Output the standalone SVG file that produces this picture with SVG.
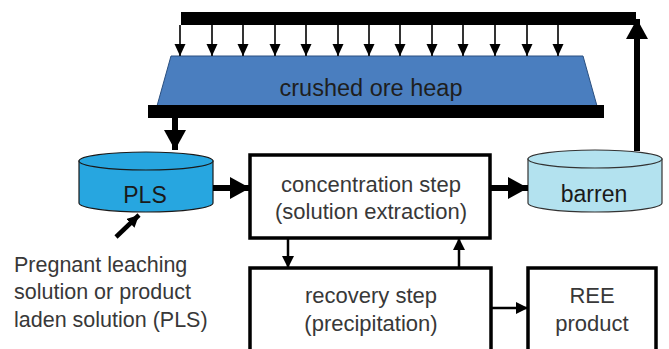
<svg xmlns="http://www.w3.org/2000/svg" width="669" height="349" viewBox="0 0 669 349">
<style>
text{font-family:"Liberation Sans","Open Sans",Arial,sans-serif;fill:#383838;}
.lbl{font-size:22px;text-anchor:middle;}
.note{font-size:21.5px;}
.box{fill:#fff;stroke:#000;stroke-width:3.5;}
.thin{stroke:#000;stroke-width:1.6;fill:none;}
.mid{stroke:#000;stroke-width:2.5;fill:none;}
.thick{stroke:#000;stroke-width:6;fill:none;}
.bar{fill:#000;}
</style>
<defs>
<marker id="hs" markerUnits="userSpaceOnUse" markerWidth="12" markerHeight="12" viewBox="0 0 12 12" refX="12" refY="6" orient="auto">
<path d="M0,0.5 L12,6 L0,11.5 Z" fill="#000"/>
</marker>
<marker id="hm" markerUnits="userSpaceOnUse" markerWidth="12" markerHeight="12" viewBox="0 0 12 12" refX="12" refY="6" orient="auto">
<path d="M0,0 L12,6 L0,12 Z" fill="#000"/>
</marker>
<marker id="hl" markerUnits="userSpaceOnUse" markerWidth="20" markerHeight="22" viewBox="0 0 20 22" refX="20" refY="11" orient="auto">
<path d="M0,0 L20,11 L0,22 Z" fill="#000"/>
</marker>
</defs>

<g id="top-bar"><rect class="bar" x="181" y="12" width="455" height="13"/></g>

<g id="heap">
<polygon points="171,56 583,56 597,106 157,106" fill="#4a7ebf" stroke="#2a4f80" stroke-width="1"/>
<text class="lbl" x="371" y="96" style="font-size:23.5px;fill:#1e1e1e">crushed ore heap</text>
</g>

<g id="bottom-bar"><rect class="bar" x="148" y="105" width="456" height="13"/></g>

<g id="pls">
<path d="M79,161 L79,203 A67,9 0 0 0 213,203 L213,161 Z" fill="#27a6e0" stroke="#1a1a1a" stroke-width="1.2"/>
<ellipse cx="146" cy="161" rx="67" ry="9" fill="#27a6e0" stroke="#1a1a1a" stroke-width="1.2"/>
<text class="lbl" x="145" y="203" style="fill:#1a1a1a;font-size:23px">PLS</text>
</g>

<g id="barren">
<path d="M528,159 L528,203 A67,9 0 0 0 662,203 L662,159 Z" fill="#b3e2ef" stroke="#333" stroke-width="1.2"/>
<ellipse cx="595" cy="159" rx="67" ry="9" fill="#b3e2ef" stroke="#333" stroke-width="1.2"/>
<text class="lbl" x="594" y="202" style="fill:#1a1a1a;font-size:23px">barren</text>
</g>

<g id="concentration">
<rect class="box" x="250" y="155" width="240" height="83"/>
<text class="lbl" x="371" y="192">concentration step</text>
<text class="lbl" x="371" y="219">(solution extraction)</text>
</g>

<g id="recovery">
<rect class="box" x="250" y="268" width="241" height="100"/>
<text class="lbl" x="371" y="303">recovery step</text>
<text class="lbl" x="371" y="331">(precipitation)</text>
</g>

<g id="ree">
<rect class="box" x="528" y="268" width="128" height="100"/>
<text class="lbl" x="592" y="303">REE</text>
<text class="lbl" x="592" y="331">product</text>
</g>

<g id="pls-note">
<text class="note" x="14" y="272">Pregnant leaching</text>
<text class="note" x="14" y="299">solution or product</text>
<text class="note" x="14" y="327">laden solution (PLS)</text>
</g>

<g id="connectors">
<path class="thin" d="M180,25 V56" marker-end="url(#hs)"/>
<path class="thin" d="M212,25 V56" marker-end="url(#hs)"/>
<path class="thin" d="M243,25 V56" marker-end="url(#hs)"/>
<path class="thin" d="M275,25 V56" marker-end="url(#hs)"/>
<path class="thin" d="M306,25 V56" marker-end="url(#hs)"/>
<path class="thin" d="M338,25 V56" marker-end="url(#hs)"/>
<path class="thin" d="M369,25 V56" marker-end="url(#hs)"/>
<path class="thin" d="M400,25 V56" marker-end="url(#hs)"/>
<path class="thin" d="M432,25 V56" marker-end="url(#hs)"/>
<path class="thin" d="M463,25 V56" marker-end="url(#hs)"/>
<path class="thin" d="M495,25 V56" marker-end="url(#hs)"/>
<path class="thin" d="M527,25 V56" marker-end="url(#hs)"/>
<path class="thin" d="M558,25 V56" marker-end="url(#hs)"/>
<path class="thick" d="M175,118 V150" marker-end="url(#hl)"/>
<path class="thick" d="M213,188 H250" marker-end="url(#hl)"/>
<path class="thick" d="M490,188 H528" marker-end="url(#hl)"/>
<path class="thick" d="M637,151 V19" marker-end="url(#hl)"/>
<path class="mid" d="M288,238 V268" marker-end="url(#hm)"/>
<path class="mid" d="M459,268 V238" marker-end="url(#hm)"/>
<path class="mid" d="M491,308 H528" marker-end="url(#hm)"/>
<path class="thick" style="stroke-width:4.5" d="M116,237 L139,215" marker-end="url(#hm)"/>
</g>
</svg>
